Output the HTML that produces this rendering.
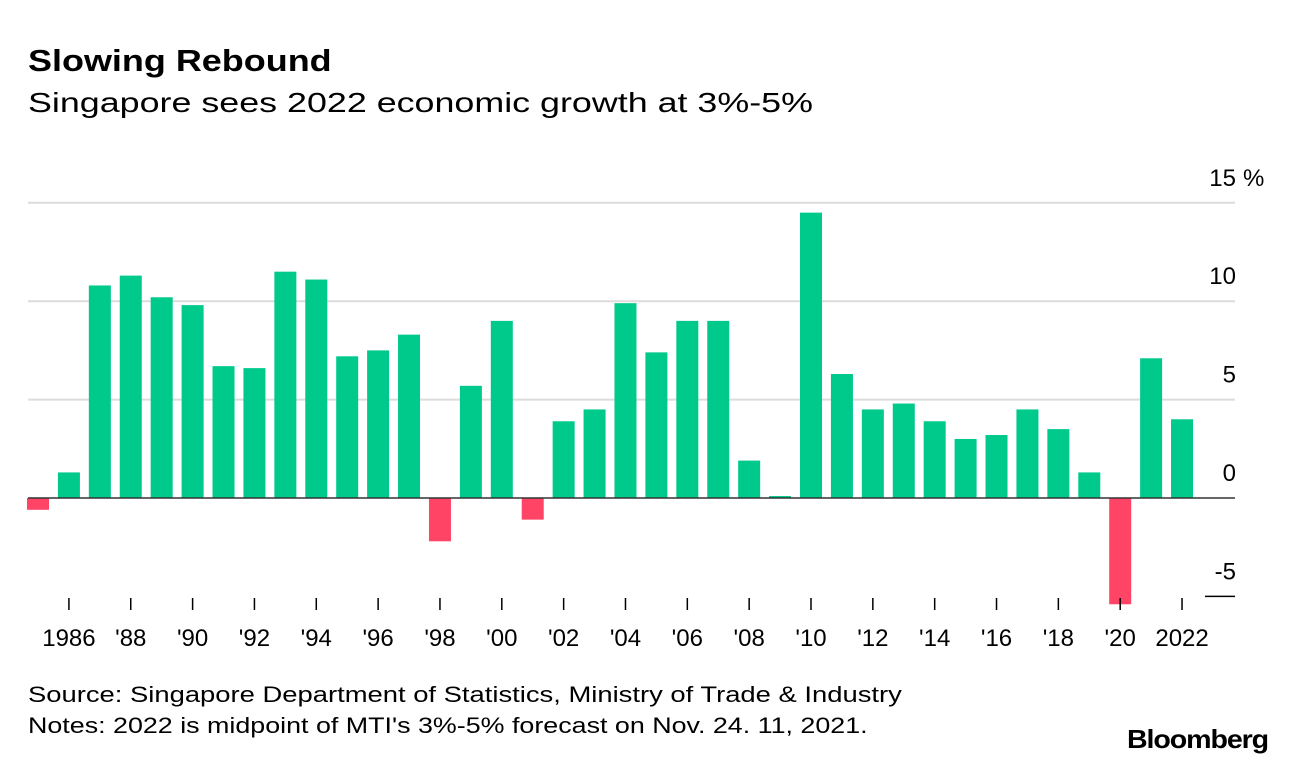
<!DOCTYPE html>
<html><head><meta charset="utf-8"><style>
body{margin:0;background:#fff;font-family:"Liberation Sans",sans-serif;}
#wrap{position:relative;width:1296px;height:766px;overflow:hidden;}
.t{position:absolute;color:#000;white-space:nowrap;transform-origin:0 0;}
</style></head><body>
<div id="wrap">
<div class="t" style="left:28px;top:43px;font-size:31px;font-weight:bold;transform:scaleX(1.16);">Slowing Rebound</div>
<div class="t" style="left:28px;top:87px;font-size:28px;transform:scaleX(1.28);">Singapore sees 2022 economic growth at 3%-5%</div>
<svg id="chart" width="1296" height="766" style="position:absolute;left:0;top:0"></svg>
<div class="t" style="left:28px;top:682px;font-size:22px;transform:scaleX(1.245);">Source: Singapore Department of Statistics, Ministry of Trade &amp; Industry</div>
<div class="t" style="left:28px;top:713px;font-size:22px;transform:scaleX(1.22);">Notes: 2022 is midpoint of MTI's 3%-5% forecast on Nov. 24. 11, 2021.</div>
<div class="t" style="left:1127px;top:724px;font-size:26px;font-weight:bold;letter-spacing:-1px;transform:scaleX(1.1);">Bloomberg</div>
</div>
<script>
const years=[1985,1986,1987,1988,1989,1990,1991,1992,1993,1994,1995,1996,1997,1998,1999,2000,2001,2002,2003,2004,2005,2006,2007,2008,2009,2010,2011,2012,2013,2014,2015,2016,2017,2018,2019,2020,2021,2022];
const growth=[-0.6,1.3,10.8,11.3,10.2,9.8,6.7,6.6,11.5,11.1,7.2,7.5,8.3,-2.2,5.7,9.0,-1.1,3.9,4.5,9.9,7.4,9.0,9.0,1.9,0.1,14.5,6.3,4.5,4.8,3.9,3.0,3.2,4.5,3.5,1.3,-5.4,7.1,4.0];
const yTicks=[15,10,5,0,-5];
const xTickLabels=["1986","'88","'90","'92","'94","'96","'98","'00","'02","'04","'06","'08","'10","'12","'14","'16","'18","'20","2022"];
const xTickYears=[1986,1988,1990,1992,1994,1996,1998,2000,2002,2004,2006,2008,2010,2012,2014,2016,2018,2020,2022];
const svg=document.getElementById('chart');const NS='http://www.w3.org/2000/svg';
const y=v=>498-v*19.68;
const x=yr=>38+(yr-1985)*30.92;
function mk(tag,attrs){const e=document.createElementNS(NS,tag);for(const k in attrs)e.setAttribute(k,attrs[k]);svg.appendChild(e);return e;}
yTicks.forEach(v=>{
  if(v===-5){const l=mk('line',{x1:1205,x2:1235,y1:y(v),y2:y(v),stroke:'#000','stroke-width':1.5});
  
  }
  else if(v!==0){const l=mk('line',{x1:28,x2:1235,y1:y(v),y2:y(v),stroke:'#dcdcdc','stroke-width':2});
  
  }
  const t=mk('text',{x:1236,y:y(v)-17,'text-anchor':'end','font-size':24,'font-family':'Liberation Sans'});
  t.textContent=v;
  
  
  if(v===15){const p=mk('text',{x:1243,y:y(v)-17,'font-size':24,'font-family':'Liberation Sans'});p.textContent='%';
  
  }
});
years.forEach((yr,i)=>{
  const v=growth[i];const top=Math.min(y(v),y(0)),h=Math.abs(y(v)-y(0));
  const r=mk('rect',{x:x(yr)-11,y:top,width:22,height:Math.max(h,1.5),fill:v>=0?'#00c98c':'#ff4466'});
  
  
});
const z=mk('line',{x1:28,x2:1235,y1:y(0),y2:y(0),stroke:'#333','stroke-width':1.5});


xTickYears.forEach((yr,i)=>{
  const tk=mk('line',{x1:x(yr),x2:x(yr),y1:598,y2:610,stroke:'#000','stroke-width':1.5});
  
  
  const t=mk('text',{x:x(yr),y:646,'text-anchor':'middle','font-size':24,'font-family':'Liberation Sans'});
  t.textContent=xTickLabels[i];
  
  
});
</script>
</body></html>
